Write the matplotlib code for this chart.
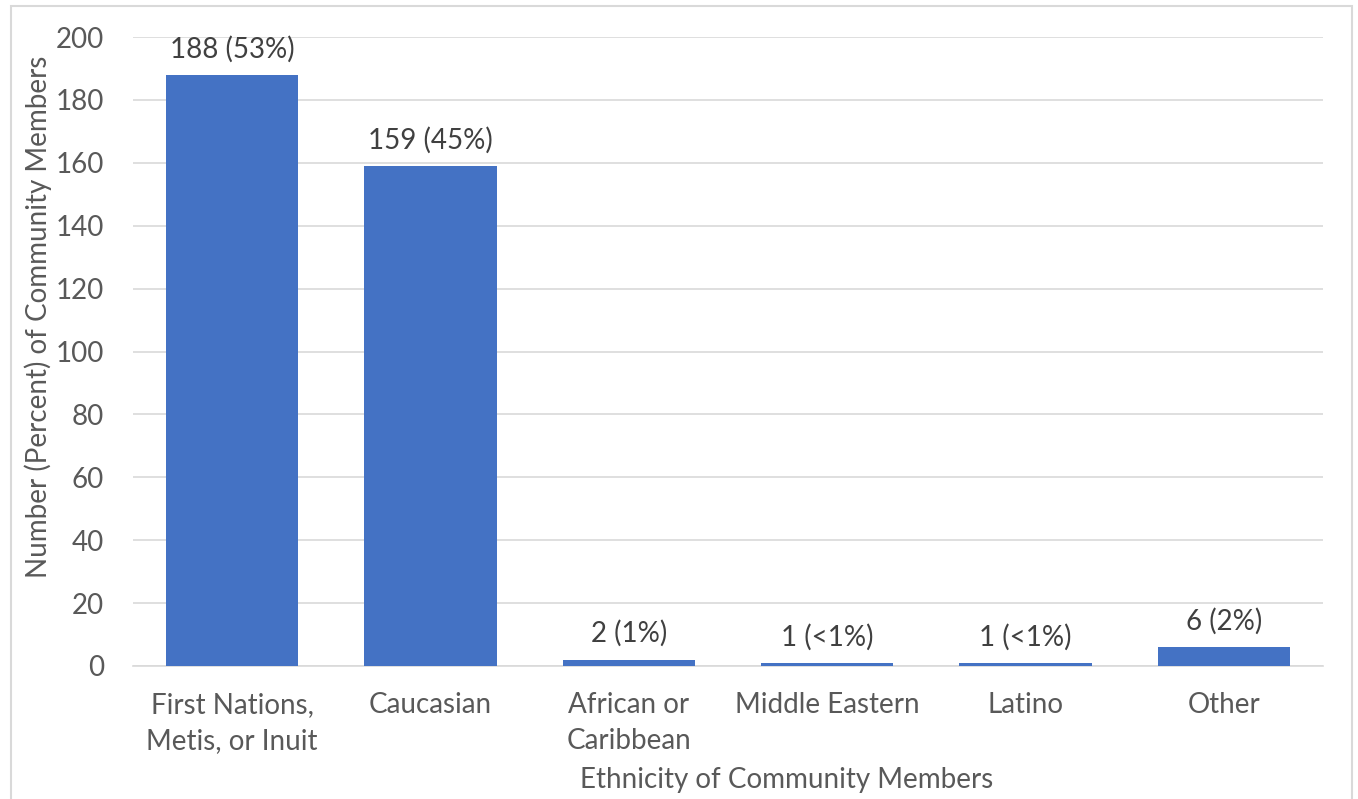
import matplotlib
matplotlib.use("Agg")
import matplotlib.pyplot as plt
from matplotlib.patches import Rectangle

categories = ["First Nations,\nMetis, or Inuit", "Caucasian", "African or\nCaribbean",
              "Middle Eastern", "Latino", "Other"]
counts = [188, 159, 2, 1, 1, 6]
percent_labels = ["53%", "45%", "1%", "<1%", "<1%", "2%"]
y_ticks = [0, 20, 40, 60, 80, 100, 120, 140, 160, 180, 200]

plt.rcParams['font.family'] = ['Lato', 'DejaVu Sans']
FS = 20

W, H = 1358, 799
fig = plt.figure(figsize=(W / 100, H / 100), dpi=100)
fig.patch.set_facecolor("white")

# chart frame
fig.add_artist(Rectangle((11 / W, -0.05), (1352 - 11) / W, 1.05 - 6 / H,
                         transform=fig.transFigure, fill=False,
                         edgecolor="#D9D9D9", linewidth=1.5))

ax = fig.add_axes([133 / W, 1 - 666 / H, (1323 - 133) / W, (666 - 37) / H])
x = range(len(categories))
ax.bar(x, counts, width=0.667, color="#4472C4", zorder=3)
ax.set_xlim(-0.5, len(categories) - 0.5)
ax.set_ylim(0, 200)
ax.set_yticks(y_ticks)
ax.yaxis.grid(True, color="#D9D9D9", linewidth=1.2, zorder=0)
ax.set_axisbelow(True)
for s in ["top", "right", "left"]:
    ax.spines[s].set_visible(False)
ax.spines["bottom"].set_color("#D9D9D9")
ax.spines["bottom"].set_linewidth(1.2)
ax.tick_params(axis="both", length=0, labelsize=FS, colors="#595959")
ax.tick_params(axis="y", pad=21)
ax.tick_params(axis="x", pad=19)
ax.set_xticks(list(x))
ax.set_xticklabels(categories, linespacing=1.45)

for xi, c, p in zip(x, counts, percent_labels):
    ax.annotate(f"{c} ({p})", (xi, c), xytext=(0, 9), textcoords="offset points",
                ha="center", va="bottom", fontsize=FS, color="#404040")

ax.set_ylabel("Number (Percent) of Community Members", fontsize=FS, color="#595959",
              va="center")
ax.yaxis.set_label_coords(-0.0798, 0.555)
ax.set_xlabel("Ethnicity of Community Members", fontsize=FS, color="#595959",
              va="center")
ax.xaxis.set_label_coords(0.549, -0.181)

fig.savefig("out.png", dpi=100)
